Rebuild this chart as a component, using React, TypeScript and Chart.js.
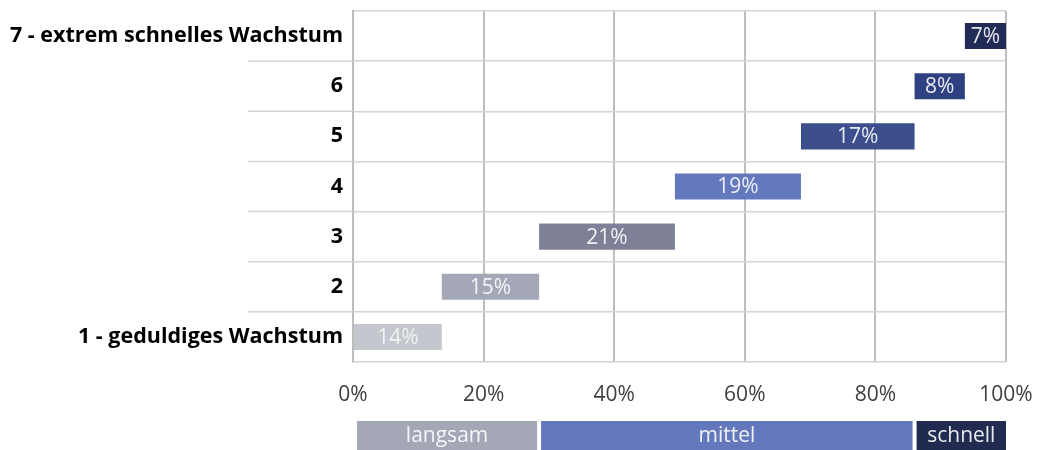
import React, { useEffect, useRef } from "react";
import { Chart, registerables } from "chart.js";

Chart.register(...registerables);

const categories = ["1 - geduldiges Wachstum", "2", "3", "4", "5", "6", "7 - extrem schnelles Wachstum"];
const shares = [13.6, 14.9, 20.8, 19.3, 17.4, 7.7, 6.3];
const shareLabels = ["14%", "15%", "21%", "19%", "17%", "8%", "7%"];
const barColors = ["#c5c7ce", "#a4a7b6", "#7e8097", "#6479bd", "#3c4e8c", "#2f4180", "#212b55"];
const xTicks = [0, 20, 40, 60, 80, 100];

const bandLabels = ["langsam", "mittel", "schnell"];
const bandStart = [0, 28.5, 86];
const bandEnd = [28.5, 86, 100];
const bandColors = ["#a4a7b6", "#6479bd", "#212b4f"];

const FONT = "'Open Sans', 'Noto Sans', sans-serif";

export default function App() {
  const ref = useRef<HTMLCanvasElement | null>(null);
  useEffect(() => {
    if (!ref.current) return;
    let cum = 0;
    const ranges = shares.map((s) => {
      const r = [cum, cum + s];
      cum += s;
      return r;
    });

    const extLines = {
      id: "extLines",
      beforeDatasetsDraw(chart: any) {
        const { ctx, chartArea } = chart;
        const y = chart.scales.y;
        ctx.save();
        ctx.strokeStyle = "#d4d4d4";
        ctx.lineWidth = 1.5;
        for (let i = 1; i < categories.length; i++) {
          const py = (y.getPixelForValue(i - 1) + y.getPixelForValue(i)) / 2;
          ctx.beginPath();
          ctx.moveTo(chartArea.left - 105, py);
          ctx.lineTo(chartArea.left, py);
          ctx.stroke();
        }
        ctx.restore();
      },
    };

    const barText = {
      id: "barText",
      afterDatasetsDraw(chart: any) {
        const { ctx } = chart;
        const meta = chart.getDatasetMeta(0);
        ctx.save();
        ctx.font = `21px ${FONT}`;
        ctx.textAlign = "center";
        ctx.textBaseline = "middle";
        meta.data.forEach((el: any, i: number) => {
          ctx.fillStyle = i === 0 ? "rgba(255,255,255,0.75)" : "rgba(255,255,255,0.88)";
          ctx.fillText(shareLabels[i], (el.x + el.base) / 2, el.y + 1);
        });
        ctx.restore();
      },
    };

    const bands = {
      id: "bands",
      afterDraw(chart: any) {
        const { ctx } = chart;
        const x = chart.scales.x;
        ctx.save();
        ctx.font = `21px ${FONT}`;
        ctx.textAlign = "center";
        ctx.textBaseline = "middle";
        for (let i = 0; i < bandLabels.length; i++) {
          const x0 = x.getPixelForValue(bandStart[i]) + (i === 0 ? 4 : 2);
          const x1 = x.getPixelForValue(bandEnd[i]) - (i === bandLabels.length - 1 ? 0 : 2);
          ctx.fillStyle = bandColors[i];
          ctx.fillRect(x0, 421, x1 - x0, 29);
          ctx.fillStyle = "rgba(255,255,255,0.9)";
          ctx.fillText(bandLabels[i], (x0 + x1) / 2, 436);
        }
        ctx.restore();
      },
    };

    const chart = new Chart(ref.current, {
      type: "bar",
      data: {
        labels: categories,
        datasets: [
          {
            data: ranges as any,
            backgroundColor: barColors,
            borderWidth: 0,
            borderSkipped: false,
            barPercentage: 0.52,
            categoryPercentage: 1,
          },
        ],
      },
      options: {
        indexAxis: "y",
        animation: false,
        responsive: true,
        maintainAspectRatio: false,
        layout: { padding: { top: 11, right: 39, left: 0, bottom: 0 } },
        plugins: { legend: { display: false }, tooltip: { enabled: false } },
        scales: {
          x: {
            min: 0,
            max: 100,
            afterBuildTicks(scale: any) {
              scale.ticks = xTicks.map((v) => ({ value: v }));
            },
            afterFit(scale: any) {
              scale.height = 88;
              scale.paddingLeft = 0;
              scale.paddingRight = 0;
            },
            grid: { color: "#bdbdbd", lineWidth: 2, drawTicks: false },
            border: { display: false },
            ticks: {
              padding: 20,
              color: "#404040",
              font: { family: FONT, size: 21 },
              callback: (v: any) => v + "%",
            },
          },
          y: {
            reverse: true,
            afterFit(scale: any) {
              scale.width = 353;
              scale.paddingTop = 0;
              scale.paddingBottom = 0;
            },
            grid: { offset: true, color: "#d4d4d4", lineWidth: 1.5, drawTicks: false },
            border: { display: true, color: "#bdbdbd", width: 2 },
            ticks: {
              padding: 10,
              color: "#000",
              font: { family: FONT, size: 21.5, weight: "bold" },
            },
          },
        },
      },
      plugins: [extLines, barText, bands],
    });
    return () => chart.destroy();
  }, []);
  return (
    <div style={{ position: "fixed", left: 0, top: 0, width: 1045, height: 450, background: "#fff" }}>
      <canvas ref={ref} />
    </div>
  );
}
